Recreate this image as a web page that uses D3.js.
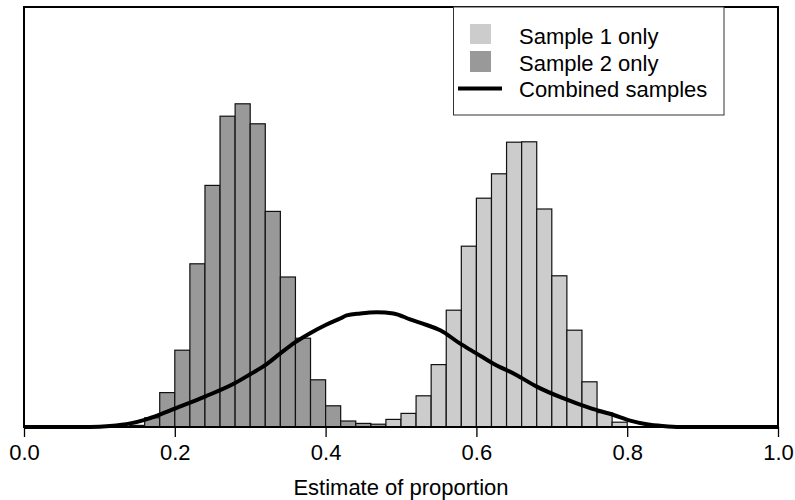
<!DOCTYPE html>
<html>
<head>
<meta charset="utf-8">
<script src="https://cdn.jsdelivr.net/npm/d3@7"></script>
<style>
  html, body { margin: 0; padding: 0; background: #fff; }
  svg { display: block; }
  text { font-family: "Liberation Sans", Arial, sans-serif; fill: #000; }
</style>
</head>
<body>
<svg id="chart" width="795" height="500"></svg>
<script>
// ---- data ----
const binWidth = 0.02;
const sample2Start = [0.14,0.16,0.18,0.20,0.22,0.24,0.26,0.28,0.30,0.32,0.34,0.36,0.38,0.40,0.42,0.44,0.46];
const sample2Density = [0.04,0.23,0.86,1.92,4.08,6.04,7.77,8.08,7.58,5.39,3.75,2.22,1.18,0.53,0.15,0.09,0.07];
const sample1Start = [0.48,0.50,0.52,0.54,0.56,0.58,0.60,0.62,0.64,0.66,0.68,0.70,0.72,0.74,0.76,0.78];
const sample1Density = [0.19,0.34,0.78,1.56,2.92,4.52,5.72,6.33,7.12,7.13,5.45,3.78,2.42,1.13,0.36,0.12];
const combinedX = [0.0,0.0875,0.114,0.141,0.160,0.180,0.200,0.240,0.280,0.301,0.321,0.340,0.360,0.380,0.400,0.420,0.428,0.446,0.468,0.490,0.512,0.534,0.552,0.578,0.600,0.622,0.653,0.680,0.715,0.751,0.782,0.804,0.826,0.847,0.870,1.0];
const combinedY = [0,0,0.025,0.09,0.18,0.31,0.46,0.76,1.1,1.33,1.56,1.84,2.12,2.35,2.55,2.72,2.79,2.84,2.87,2.84,2.69,2.55,2.42,2.09,1.84,1.59,1.3,1.01,0.72,0.47,0.3,0.16,0.07,0.025,0,0];
const xTicks = [0.0,0.2,0.4,0.6,0.8,1.0];
const legendLabels = ["Sample 1 only","Sample 2 only","Combined samples"];
const xTitle = "Estimate of proportion";

// ---- layout ----
const mLeft = 24, mRight = 778, mTop = 7, mBottom = 427;
const svg = d3.select("#chart");
const x = d3.scaleLinear().domain([0,1]).range([mLeft,mRight]);
const y = d3.scaleLinear().domain([0,10.5]).range([mBottom,mTop]);

const s2 = sample2Start.map((s,i)=>({x0:s, x1:s+binWidth, v:sample2Density[i]}));
const s1 = sample1Start.map((s,i)=>({x0:s, x1:s+binWidth, v:sample1Density[i]}));

function drawBars(data, fill) {
  svg.append("g").selectAll("rect").data(data).join("rect")
    .attr("x", d => x(d.x0))
    .attr("y", d => y(d.v))
    .attr("width", d => x(d.x1) - x(d.x0))
    .attr("height", d => y(0) - y(d.v))
    .attr("fill", fill)
    .attr("stroke", "#111")
    .attr("stroke-width", 1.2);
}
drawBars(s2, "#999999");
drawBars(s1, "#cccccc");

// combined curve
const line = d3.line().x(d => x(d[0])).y(d => y(d[1])).curve(d3.curveMonotoneX);
svg.append("path")
  .datum(combinedX.map((v,i)=>[v, combinedY[i]]))
  .attr("d", line)
  .attr("fill", "none")
  .attr("stroke", "#000")
  .attr("stroke-width", 4)
  .attr("stroke-linejoin", "round");

// x axis
const axis = d3.axisBottom(x).tickValues(xTicks).tickFormat(d3.format(".1f")).tickSize(10).tickSizeOuter(0);
const ag = svg.append("g").attr("transform", `translate(0,${mBottom})`).call(axis);
ag.select(".domain").remove();
ag.selectAll(".tick line").attr("stroke", "#000").attr("stroke-width", 1.3);
ag.selectAll(".tick text")
  .attr("font-size", 22)
  .attr("font-family", "Liberation Sans, Arial, sans-serif")
  .attr("y", 33)
  .attr("dy", 0);

// frame
svg.append("rect")
  .attr("x", mLeft).attr("y", mTop)
  .attr("width", mRight - mLeft).attr("height", mBottom - mTop)
  .attr("fill", "none").attr("stroke", "#000").attr("stroke-width", 2);

// title
svg.append("text")
  .attr("x", (mLeft + mRight) / 2).attr("y", 495)
  .attr("text-anchor", "middle").attr("font-size", 22)
  .text(xTitle);

// legend
const lg = svg.append("g");
lg.append("rect").attr("x", 453.5).attr("y", mTop).attr("width", 270.5).attr("height", 108)
  .attr("fill", "#fff").attr("stroke", "#333").attr("stroke-width", 1);
lg.append("rect").attr("x", 470).attr("y", 24).attr("width", 21).attr("height", 20).attr("fill", "#cccccc");
lg.append("rect").attr("x", 470).attr("y", 51).attr("width", 21).attr("height", 21).attr("fill", "#999999");
lg.append("line").attr("x1", 458).attr("x2", 502).attr("y1", 88.5).attr("y2", 88.5)
  .attr("stroke", "#000").attr("stroke-width", 4);
const baselines = [44, 71, 97];
legendLabels.forEach((t,i) => {
  lg.append("text").attr("x", 519).attr("y", baselines[i]).attr("font-size", 22).text(t);
});
</script>
</body>
</html>
